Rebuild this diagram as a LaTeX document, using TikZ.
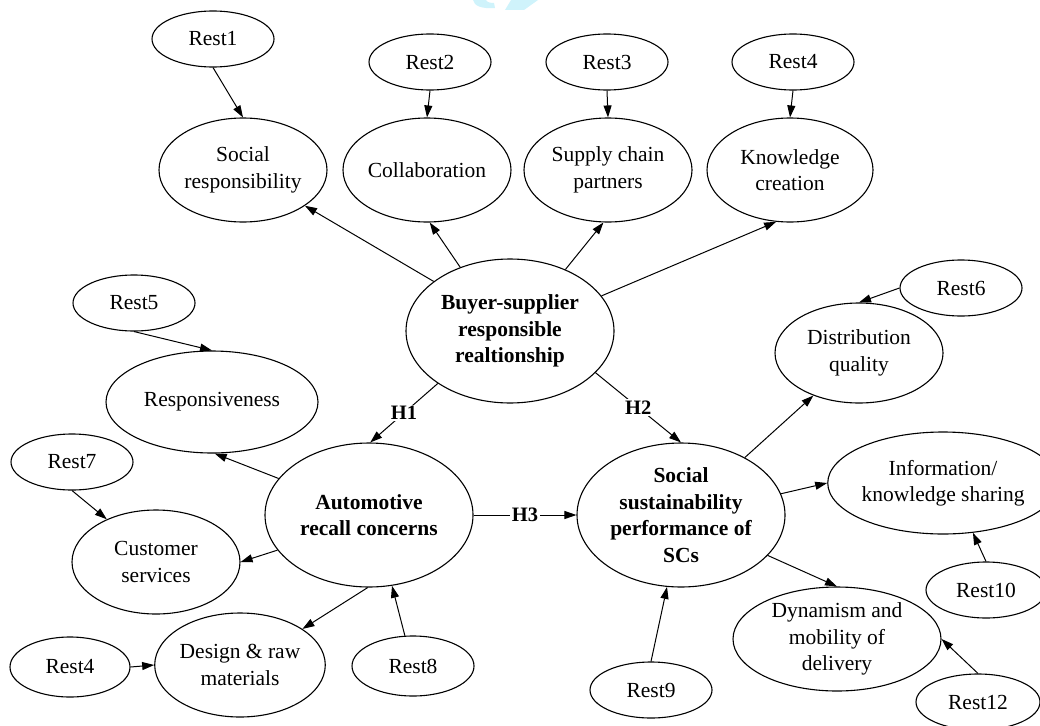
\documentclass[tikz,border=0pt]{standalone}
\usepackage{fontspec}
\setmainfont{Liberation Serif}
\usetikzlibrary{shapes.geometric,arrows.meta}
\definecolor{markcyan}{HTML}{CFF3FB}
\begin{document}
\begin{tikzpicture}[x=1pt,y=-1pt,
  every node/.style={font=\fontsize{21.5}{26.5}\selectfont},
  oval/.style={ellipse, draw, line width=1.1pt, inner sep=0pt, align=center},
  rest/.style={oval, minimum width=122pt, minimum height=56pt},
  factor/.style={oval, minimum width=168pt, minimum height=104pt},
  core/.style={oval, minimum width=208pt, minimum height=144pt,
    font=\fontsize{21.5}{26.5}\selectfont\bfseries},
  link/.style={line width=1pt, -{Triangle[length=12pt,width=8pt]}},
  hyp/.style={fill=white, inner sep=1.5pt,
    font=\fontsize{20.5}{24}\selectfont\bfseries}
]
\useasboundingbox (0,0) rectangle (1040,725);

% faint mark at the top edge
\fill[markcyan] (473,0) .. controls (474,6) and (482,9) .. (495,8)
  -- (494,3) .. controls (488,3) and (486,1) .. (486,0) -- cycle;
\fill[markcyan] (511,0) -- (538,0) -- (524,10) -- (505,10) -- cycle;

% indicators and dimensions
\node[rest] (r1) at (213,39) {Rest1};
\node[rest] (r2) at (430,62) {Rest2};
\node[rest] (r3) at (607,62) {Rest3};
\node[rest] (r4a) at (793,62) {Rest4};
\node[factor] (socresp) at (243,170) {Social\\responsibility};
\node[factor] (collab) at (427,170) {Collaboration};
\node[factor] (scp) at (608,170) {Supply chain\\partners};
\node[factor, minimum width=166pt] (know) at (790,170) {Knowledge\\creation};
\node[core] (buyer) at (510,331) {Buyer-supplier\\responsible\\realtionship};
\node[rest] (r5) at (134,303) {Rest5};
\node[oval, minimum width=212pt, minimum height=102pt] (resp) at (212,402) {Responsiveness};
\node[rest] (r6) at (961,288) {Rest6};
\node[factor, minimum height=100pt] (dist) at (859,353) {Distribution\\quality};
\node[rest] (r7) at (72,462) {Rest7};
\node[factor] (cust) at (156,562) {Customer\\services};
\node[core] (auto) at (369,515) {Automotive\\recall concerns};
\node[core] (ss) at (681,515) {Social\\sustainability\\performance of\\SCs};
\node[oval, minimum width=210pt, minimum height=102pt] (info) at (943,483) {Information/\\knowledge sharing};
\node[rest, minimum width=120pt] (r10) at (986,590) {Rest10};
\node[factor, minimum width=166pt] (design) at (240,665) {Design \& raw\\materials};
\node[rest, minimum width=120pt, minimum height=60pt] (r4b) at (70,667) {Rest4};
\node[rest, minimum height=60pt] (r8) at (413,666) {Rest8};
\node[rest] (r9) at (651,690) {Rest9};
\node[oval, minimum width=208pt, minimum height=104pt] (dyn) at (837,639) {Dynamism and\\mobility of\\delivery};
\node[rest, minimum width=124pt] (r12) at (978,702) {Rest12};

% connectors
\draw[link] (r1.south) -- (socresp.north);
\draw[link] (r2.south) -- (collab.north);
\draw[link] (r3.south) -- (scp.north);
\draw[link] (r4a.south) -- (know.north);
\draw[link] (buyer.147.5) -- (socresp.-30);
\draw[link] (buyer.128) -- (collab.-87);
\draw[link] (buyer.48) -- (scp.-95);
\draw[link] (buyer.21) -- (know.-105);
\draw[link] (buyer.-144) -- node[hyp] (h1) {H1} (auto.89);
\draw[link] (buyer.-26) -- node[hyp] (h2) {H2} (ss.90);
\draw[link] (auto.east) -- node[hyp] (h3) {H3} (ss.west);
\draw[link] (auto.158) -- (resp.-87);
\draw[link] (auto.-159) -- (cust.east);
\draw[link] (auto.-91) -- (design.30);
\draw[link] (r8.105) -- (auto.-72);
\draw[link] (r4b.east) -- (design.west);
\draw[link] (r5.south) -- (resp.north);
\draw[link] (r7.south) -- (cust.139);
\draw[link] (ss.42) -- (dist.-137);
\draw[link] (ss.12) -- (info.west);
\draw[link] (ss.-25) -- (dyn.north);
\draw[link] (r9.north) -- (ss.-101);
\draw[link] (r10.north) -- (info.-59);
\draw[link] (r12.north) -- (dyn.east);
\draw[link] (r6.west) -- (dist.north);
\end{tikzpicture}
\end{document}
